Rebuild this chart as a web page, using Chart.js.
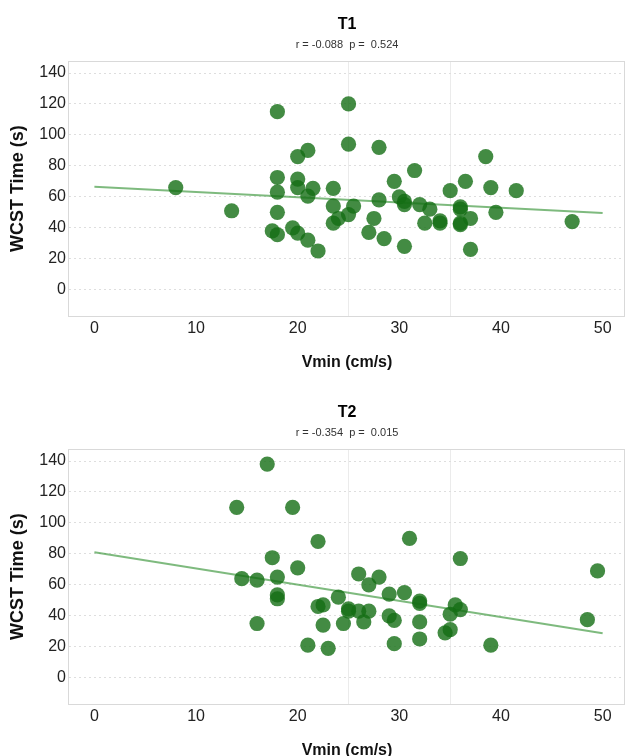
<!DOCTYPE html>
<html><head><meta charset="utf-8">
<script src="https://cdn.jsdelivr.net/npm/chart.js@4.4.1/dist/chart.umd.min.js"></script>
<style>
html,body{margin:0;padding:0;background:#fff;overflow:hidden;width:626px;height:756px}
canvas{display:block}
</style></head><body>
<canvas id="c1" width="626" height="388"></canvas>
<canvas id="c2" width="626" height="388"></canvas>
<script>
// ---- data ----
const xTicks = [0, 10, 20, 30, 40, 50];
const xFaintLines = [25, 35];
const yTicks = [0, 20, 40, 60, 80, 100, 120, 140];

const t1Title = 'T1';
const t1Stats = 'r = -0.088  p =  0.524';
const t1Vmin = [8.0,13.5,18,18,18,18,17.5,18,20,21,20,20,21.5,21,19.5,20,21,22,23.5,23.5,24,23.5,25,25,25,25.5,28,28,27.5,27,28.5,29.5,30,30.5,30.5,30.5,31.5,32,33,32.5,34,34,35,36,36,36,36,36.5,37,37,38.5,39,39.5,41.5,47];
const t1Wcst = [66,51,115,72.5,63,50,38,35.5,86,90,71.5,66,65.5,60.5,40,36.5,32,25,65.5,54,46,43,120,94,48.5,54,92,58,46,37,33,70,60,57,55,28,77,55,52,43,44.5,43,64,53.5,52,43,42,70,46,26,86,66,50,64,44];
const t1FitX = [0, 50];
const t1FitY = [66.5, 49.5];

const t2Title = 'T2';
const t2Stats = 'r = -0.354  p =  0.015';
const t2Vmin = [17,14,19.5,22,17.5,20,14.5,16,18,18,18,16,24,22,22.5,22.5,21,23,24.5,25,25,31,36,49.5,48.5,26,28,27,26,27,26.5,29,30.5,29,29.5,29.5,32,32,32,32,35.5,36,35,35,34.5,39];
const t2Wcst = [138,110,110,88,77.5,71,64,63,65,53.5,51,35,52,46,47,34,21,19,35,44.5,43,90,77,69,37.5,67,65,60,43,43,36,54,55,40,37,22,49.5,48,36,25,47,44,41,31,29,21];
const t2FitX = [0, 50];
const t2FitY = [81, 28.7];

const xTitle = 'Vmin (cm/s)';
const yTitle = 'WCST Time (s)';

// ---- styles ----
const FONT = "'Liberation Sans', Arial, Helvetica, sans-serif";
const pointColor = 'rgba(20,110,20,0.8)';
const lineColor = 'rgba(40,140,40,0.6)';

const framePlugin = {
  id: 'frame',
  beforeDatasetsDraw(chart) {
    const a = chart.chartArea, ctx = chart.ctx;
    ctx.save();
    ctx.strokeStyle = '#d9d9d9';
    ctx.lineWidth = 1;
    ctx.strokeRect(Math.round(a.left) - 0.5, Math.round(a.top) + 0.5, Math.round(a.right - a.left), Math.round(a.bottom - a.top));
    ctx.restore();
  }
};

function makeChart(id, title, stats, vmin, wcst, fitX, fitY) {
  const pts = vmin.map((v, i) => ({x: v, y: wcst[i]}));
  const fit = fitX.map((v, i) => ({x: v, y: fitY[i]}));
  return new Chart(document.getElementById(id), {
    type: 'scatter',
    data: {
      datasets: [
        {type: 'scatter', data: pts, backgroundColor: pointColor, borderWidth: 0, pointRadius: 7.6, pointHoverRadius: 7.6, order: 0},
        {type: 'line', data: fit, borderColor: lineColor, borderWidth: 2, pointRadius: 0, fill: false, showLine: true, order: 1}
      ]
    },
    options: {
      responsive: false,
      animation: false,
      devicePixelRatio: 1,
      layout: {autoPadding: false, padding: {left: 0, right: 1, top: 0, bottom: 0}},
      plugins: {
        legend: {display: false},
        tooltip: {enabled: false},
        title: {display: true, text: title, fullSize: false, color: '#000',
          font: {family: FONT, size: 16, weight: 'bold'}, padding: {top: 14.5, bottom: 0}},
        subtitle: {display: true, text: stats, fullSize: false, color: '#333',
          font: {family: FONT, size: 11}, padding: {top: 4.5, bottom: 10}}
      },
      scales: {
        x: {
          type: 'linear', min: -2.5, max: 52.2,
          afterBuildTicks: s => { s.ticks = [...xTicks, ...xFaintLines].sort((a, b) => a - b).map(v => ({value: v})); },
          afterFit: s => { s.height = 72; s.paddingLeft = 0; s.paddingRight = 0; },
          ticks: {autoSkip: false, maxRotation: 0, padding: 3, color: '#222', font: {family: FONT, size: 16},
            callback: v => xTicks.includes(v) ? String(v) : ''},
          grid: {drawTicks: false, color: c => (c.tick && xFaintLines.includes(c.tick.value)) ? '#ebebeb' : 'rgba(0,0,0,0)'},
          border: {display: false},
          title: {display: true, text: xTitle, color: '#111', font: {family: FONT, size: 16, weight: 'bold'}, padding: {top: 15.5, bottom: 16}}
        },
        y: {
          type: 'linear', min: -17, max: 147.5,
          afterBuildTicks: s => { s.ticks = yTicks.map(v => ({value: v})); },
          afterFit: s => { s.width = 69; },
          ticks: {autoSkip: false, padding: 3, color: '#222', font: {family: FONT, size: 16}},
          grid: {drawTicks: false, color: '#dedede'},
          border: {display: false, dash: [2, 3]},
          title: {display: true, text: yTitle, color: '#111', font: {family: FONT, size: 18, weight: 'bold'}, padding: {top: 7.2, bottom: 10.5}}
        }
      }
    },
    plugins: [framePlugin]
  });
}

makeChart('c1', t1Title, t1Stats, t1Vmin, t1Wcst, t1FitX, t1FitY);
makeChart('c2', t2Title, t2Stats, t2Vmin, t2Wcst, t2FitX, t2FitY);
</script>
</body></html>
